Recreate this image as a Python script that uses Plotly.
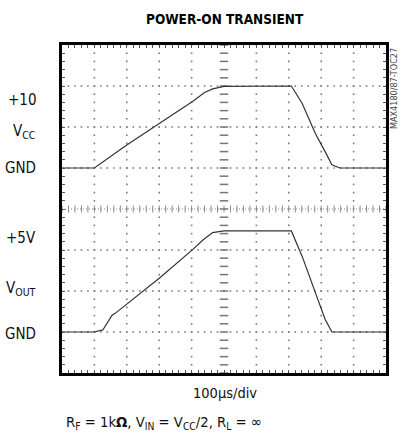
import numpy as np
import plotly.graph_objects as go

# ---- data ----
time_vcc_us = [0, 100, 200, 302, 404, 440, 465, 500, 708, 741, 782, 812, 833, 858, 1000]
vcc_v = [0, 0, 2.8, 5.45, 8.15, 9.2, 9.65, 9.95, 10.0, 7.9, 4.2, 2.0, 0.4, 0, 0]

time_vout_us = [0, 98, 126, 154, 164, 302, 404, 435, 465, 500, 708, 741, 782, 812, 833, 1000]
vout_v = [0, 0, 0.1, 0.81, 0.91, 2.65, 4.03, 4.49, 4.85, 4.93, 4.93, 3.7, 1.92, 0.62, 0, 0]

left_labels = ["+10", "V<sub>CC</sub>", "GND", "+5V", "V<sub>OUT</sub>", "GND"]
title_text = "POWER-ON TRANSIENT"
xscale_text = "100µs/div"
cond_text = "R<sub>F</sub> = 1k<b>Ω</b>, V<sub>IN</sub> = V<sub>CC</sub>/2, R<sub>L</sub> = ∞"
part_text = "MAX4180/87-TOC27"

# ---- layout geometry ----
W, H = 401, 440
L, R, T, B = 62, 388, 45, 373
PW, PH = R - L, B - T

def px_x(p):
    return (p - L) / PW

def px_y(p):
    return (B - p) / PH

FONT = "DejaVu Sans Condensed, DejaVu Sans, sans-serif"

# axis scales: 10 div x 100 us ; VCC 5 V/div with GND at div 5 ; VOUT 2 V/div with GND at div 1
X_RANGE = [0, 1000]
Y_RANGE = [-25, 15]
Y2_RANGE = [-2, 14]

fig = go.Figure()

# grid dots (5 per division) on the VCC axis
gx, gy = [], []
minor_x = np.arange(0, 1000.01, 20)
minor_y = np.arange(-25, 15.01, 1)
for xv in np.arange(100, 1000, 100):
    if xv == 500:
        continue
    gx += list(np.full(len(minor_y), xv)); gy += list(minor_y)
for yv in np.arange(-20, 15, 5):
    if yv == -5:
        continue
    gx += list(minor_x); gy += list(np.full(len(minor_x), yv))
fig.add_trace(go.Scatter(x=gx, y=gy, mode="markers",
                         marker=dict(symbol="square", size=1.6, color="#7a7a7a", line=dict(width=0)),
                         hoverinfo="skip", showlegend=False))

# center horizontal line (dense dots + ticks)
fig.add_trace(go.Scatter(x=[0, 1000], y=[-5, -5], mode="lines",
                         line=dict(color="#888", width=1, dash="1px,2px"),
                         hoverinfo="skip", showlegend=False))
fig.add_trace(go.Scatter(x=minor_x, y=np.full(len(minor_x), -5), mode="markers",
                         marker=dict(symbol="line-ns", size=5, line=dict(color="#888", width=1)),
                         hoverinfo="skip", showlegend=False))
# center vertical line ticks
fig.add_trace(go.Scatter(x=np.full(len(minor_y), 500), y=minor_y, mode="markers",
                         marker=dict(symbol="line-ew", size=6, line=dict(color="#777", width=1.5)),
                         hoverinfo="skip", showlegend=False))

# traces
fig.add_trace(go.Scatter(x=time_vcc_us, y=vcc_v, mode="lines",
                         line=dict(color="#333", width=1.2), showlegend=False, name="VCC"))
fig.add_trace(go.Scatter(x=time_vout_us, y=vout_v, mode="lines", yaxis="y2",
                         line=dict(color="#333", width=1.2), showlegend=False, name="VOUT"))

ann = []
# left labels
left_y = [100, 131, 168, 238, 288, 334]
for txt, yp in zip(left_labels, left_y):
    ann.append(dict(text=txt, x=px_x(38), y=px_y(yp), xref="paper", yref="paper",
                    xanchor="right", yanchor="middle", showarrow=False,
                    font=dict(family=FONT, size=15, color="#111")))
ann.append(dict(text="<b>" + title_text + "</b>", x=px_x(226), y=px_y(19), xref="paper", yref="paper",
                xanchor="center", yanchor="middle", showarrow=False,
                font=dict(family=FONT, size=13.5, color="#000")))
ann.append(dict(text=xscale_text, x=px_x(226), y=px_y(393), xref="paper", yref="paper",
                xanchor="center", yanchor="middle", showarrow=False,
                font=dict(family=FONT, size=14.5, color="#111")))
ann.append(dict(text=cond_text, x=px_x(64), y=px_y(422), xref="paper", yref="paper",
                xanchor="left", yanchor="middle", showarrow=False,
                font=dict(family=FONT, size=14.7, color="#111")))
ann.append(dict(text=part_text, x=px_x(396), y=px_y(88), xref="paper", yref="paper",
                xanchor="center", yanchor="middle", showarrow=False, textangle=-90,
                font=dict(family=FONT, size=9, color="#444")))

axis_common = dict(showgrid=False, zeroline=False, showticklabels=False,
                   showline=True, linecolor="#000", linewidth=3, mirror="ticks",
                   ticks="inside", ticklen=3, tickcolor="#555", tickwidth=1)
fig.update_layout(
    width=W, height=H,
    margin=dict(l=L, r=W - R, t=T, b=H - B, pad=0),
    paper_bgcolor="white", plot_bgcolor="white",
    xaxis=dict(range=X_RANGE, dtick=20, tick0=0, **axis_common),
    yaxis=dict(range=Y_RANGE, dtick=1, tick0=0, **axis_common),
    yaxis2=dict(range=Y2_RANGE, overlaying="y", visible=False),
    annotations=ann,
)

fig.write_html("out.html", config={"displayModeBar": False},
               post_script="document.body.style.margin='0';")
